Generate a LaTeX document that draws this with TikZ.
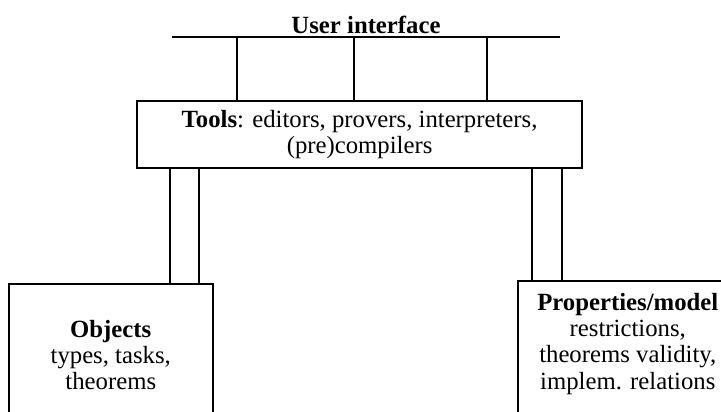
\documentclass[tikz,border=0pt]{standalone}
\usepackage{fontspec}
\setmainfont{Liberation Serif}
\usetikzlibrary{positioning}

\begin{document}
\begin{tikzpicture}[line width=1.1pt, box/.style={draw, align=center}, every node/.style={font=\fontsize{17.6}{18.6}\selectfont}]
        \clip (0,0) rectangle (18.025,-10.275);
        % User interface
        \coordinate (uiL) at (4.3,-0.925); \coordinate (uiR) at (14.0,-0.925);
        \draw[line width=1.8pt] (uiL) -- (uiR);
        \node[above, inner sep=2pt] (ui) at (9.15,-0.925) {\textbf{User interface}};
        % Tools
        \node[box, minimum width=11.125cm, minimum height=1.675cm] (tools) at (8.99,-3.36) {\textbf{Tools}: editors, provers, interpreters,\\(pre)compilers};
        \foreach \x in {5.925,8.85,12.175} \draw (\x,0 |- uiL) -- (\x,0 |- tools.north);
        % Objects
        \node[box, minimum width=5.1cm, minimum height=3.55cm, anchor=north west] (objects) at (0.2,-7.075) {\textbf{Objects}\\types, tasks,\\theorems};
        \foreach \x in {4.25,4.975} \draw (\x,0 |- tools.south) -- (\x,0 |- objects.north);
        % Properties
        \node[box, minimum width=5.5cm, minimum height=3.6cm, anchor=north west] (props) at (12.925,-7.0) {};
        \node[below=0.2cm of props.north, align=center] (propstext) {\textbf{Properties/model}\\restrictions,\\theorems validity,\\implem. relations};
        \foreach \x in {13.3,14.05} \draw (\x,0 |- tools.south) -- (\x,0 |- props.north);
    \end{tikzpicture}
\end{document}
